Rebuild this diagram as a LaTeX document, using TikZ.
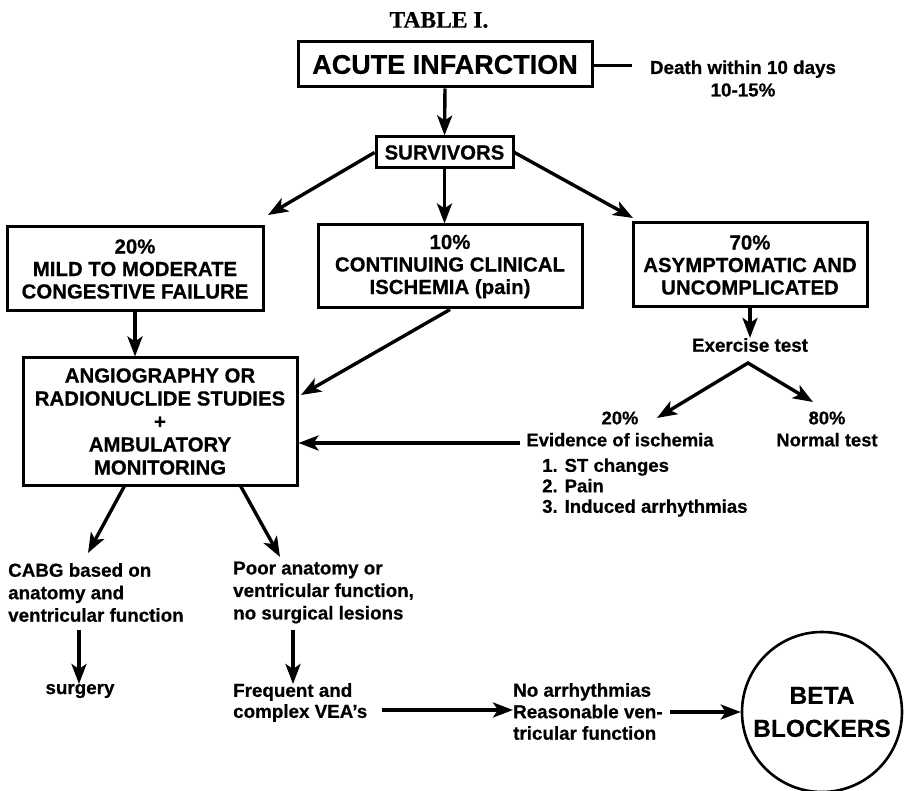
\documentclass[tikz,border=0pt]{standalone}
\usepackage{fontspec}
\setmainfont[BoldFeatures={FakeBold=0.6}]{Liberation Sans}
\newfontfamily\titlefont[BoldFeatures={FakeBold=0.5}]{Liberation Serif}
\usetikzlibrary{arrows.meta,shapes.geometric}
\begin{document}
\begin{tikzpicture}[x=1pt,y=-1pt,
  box/.style={draw, line width=3pt, align=center, inner sep=0pt, font=\bfseries\fontsize{20.4}{22.5}\selectfont},
  txt/.style={inner sep=0pt, font=\bfseries\fontsize{18.8}{22.5}\selectfont},
  tip/.style={-{Stealth[length=20pt,width=15pt,inset=5pt]}},
  arr/.style={line width=3.4pt, tip},
  ln/.style={line width=3pt}]
\useasboundingbox (0,0) rectangle (905,791);
% nodes
\node[inner sep=0pt, font=\titlefont\bfseries\fontsize{23.5}{26}\selectfont] (title) at (439,20) {TABLE I.};
\node[box, minimum width=294, minimum height=45, font=\bfseries\fontsize{27}{30}\selectfont] (acute) at (445,64.5) {ACUTE INFARCTION};
\node[box, minimum width=137, minimum height=31] (surv) at (444.5,152.5) {SURVIVORS};
\node[box, minimum width=256, minimum height=84] (mild) at (135,269) {20\%\\MILD TO MODERATE\\CONGESTIVE FAILURE};
\node[box, minimum width=264, minimum height=83] (cont) at (450,266.5) {10\%\\CONTINUING CLINICAL\\ISCHEMIA (pain)};
\node[box, minimum width=234, minimum height=84] (asym) at (750,265) {70\%\\ASYMPTOMATIC AND\\UNCOMPLICATED};
\node[box, minimum width=274, minimum height=127, font=\bfseries\fontsize{20.4}{23}\selectfont] (angio) at (160,421.5) {ANGIOGRAPHY OR\\RADIONUCLIDE STUDIES\\+\\AMBULATORY\\MONITORING};
\node[txt, align=center] (death) at (743,78.5) {Death within 10 days\\10-15\%};
\node[txt] (ex) at (750,345) {Exercise test};
\node[txt, align=center, font=\bfseries\fontsize{18.4}{22}\selectfont] (evid) at (620,429) {20\%\\Evidence of ischemia};
\node[txt, align=center, font=\bfseries\fontsize{18.4}{22}\selectfont] (norm) at (827,429) {80\%\\Normal test};
\node[txt, align=left, anchor=west, font=\bfseries\fontsize{18.6}{20.5}\selectfont] (list) at (542,487.5) {1. ST changes\\2. Pain\\3. Induced arrhythmias};
\node[txt, align=left, anchor=west] (cabg) at (8,592.5) {CABG based on\\anatomy and\\ventricular function};
\node[txt, align=left, anchor=west] (poor) at (233,592.5) {Poor anatomy or\\ventricular function,\\no surgical lesions};
\node[txt] (surg) at (80,691) {surgery};
\node[txt, align=left, anchor=west, font=\bfseries\fontsize{18.8}{21}\selectfont] (freq) at (233,702.5) {Frequent and\\complex VEA’s};
\node[txt, align=left, anchor=west, font=\bfseries\fontsize{18.8}{21.5}\selectfont] (noarr) at (513,711.5) {No arrhythmias\\Reasonable ven-\\tricular function};
\node[draw, circle, line width=2.6pt, minimum size=160, inner sep=0pt, align=center, font=\bfseries\fontsize{24.5}{33}\selectfont] (beta) at (822,712) {BETA\\BLOCKERS};
% free ends
\coordinate (dl) at (632,66);
\coordinate (t1) at (268,215);
\coordinate (t2) at (633,218);
\coordinate (t3) at (301,395);
\coordinate (apex) at (748,363);
\coordinate (t4) at (657,418);
\coordinate (t5) at (813,402);
\coordinate (es) at (520,443);
\coordinate (b1) at (125,485);
\coordinate (t6) at (88,553);
\coordinate (b2) at (240,485);
\coordinate (t7) at (280,557);
\coordinate (c1) at (79,630);
\coordinate (c2) at (79,684);
\coordinate (p1) at (293,630);
\coordinate (p2) at (293,684);
\coordinate (a1) at (382,710);
\coordinate (a2) at (670,712);
% connectors
\draw[ln] (acute.east |- dl) -- (dl);
\draw[arr] (acute.south) -- (surv.north);
\draw[arr] (surv.west) -- (t1);
\draw[arr] (surv.south) -- (surv.south |- cont.north);
\draw[arr] (surv.east) -- (t2);
\draw[arr] (mild.south) -- (mild.south |- angio.north);
\draw[arr] (cont.south) -- (t3);
\draw[arr] (asym.south) -- (ex.north);
\draw[line width=3.4pt, line join=miter, {Stealth[length=20pt,width=15pt,inset=5pt]}-{Stealth[length=20pt,width=15pt,inset=5pt]}] (t4) -- (apex) -- (t5);
\draw[arr] (es) -- (angio.east |- es);
\draw[arr] (b1) -- (t6);
\draw[arr] (b2) -- (t7);
\draw[arr] (c1) -- (c2);
\draw[arr] (p1) -- (p2);
\draw[arr] (a1) -- (noarr.west |- a1);
\draw[arr] (a2) -- (beta.west);
\end{tikzpicture}
\end{document}
